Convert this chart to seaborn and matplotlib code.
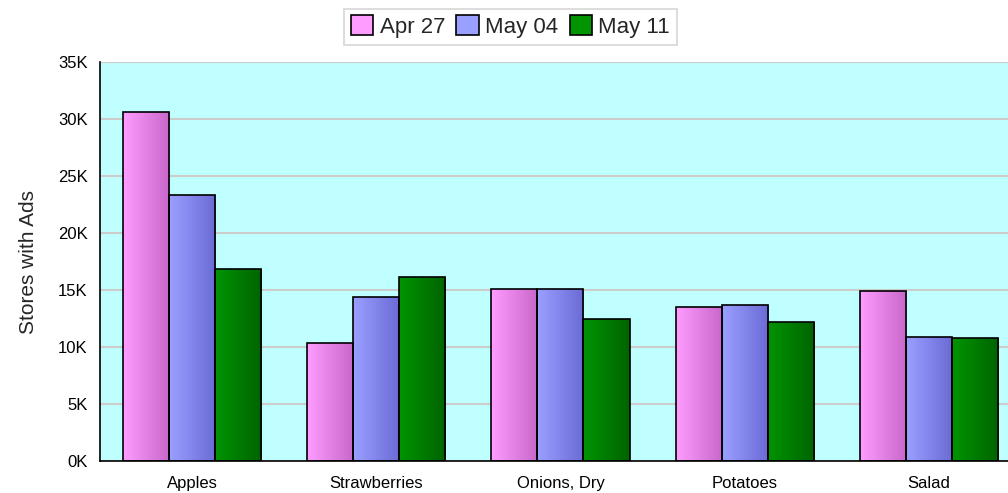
import numpy as np
import pandas as pd
import seaborn as sns
import matplotlib.pyplot as plt
from matplotlib.colors import LinearSegmentedColormap
from matplotlib.patches import Rectangle
from matplotlib.ticker import FuncFormatter, MultipleLocator

# Datos
categorias = ["Apples", "Strawberries", "Onions, Dry", "Potatoes", "Salad"]
semanas = ["Apr 27", "May 04", "May 11"]
apr27 = [30600, 10350, 15100, 13500, 14950]
may04 = [23300, 14400, 15100, 13700, 10900]
may11 = [16850, 16150, 12500, 12150, 10750]

df = pd.DataFrame({
    "categoria": categorias * 3,
    "semana": [s for s in semanas for _ in categorias],
    "valor": apr27 + may04 + may11,
})

# colores: (claro, oscuro) para el degradado
degradados = {
    "Apr 27": ("#ff9cff", "#c966c9"),
    "May 04": ("#9aa0ff", "#6a6ad4"),
    "May 11": ("#009400", "#006400"),
}
paleta = {k: v[1] for k, v in degradados.items()}

sns.set_theme(style="white")
plt.rcParams["font.family"] = ["Liberation Sans", "DejaVu Sans"]

fig = plt.figure(figsize=(10.08, 4.93), dpi=100)
ax = fig.add_axes([100 / 1008, 32 / 493, 1 - 100 / 1008, (461 - 62) / 493])
ax.set_facecolor("#c0ffff")

sns.barplot(data=df, x="categoria", y="valor", hue="semana", hue_order=semanas,
            palette=paleta, width=0.75, gap=0, edgecolor="black", linewidth=1.2,
            legend=False, ax=ax, zorder=3)

# degradado horizontal dentro de cada barra
grad = np.linspace(0, 1, 256).reshape(1, -1)
for cont, semana in zip(ax.containers, semanas):
    cmap = LinearSegmentedColormap.from_list(semana, degradados[semana])
    for bar in cont:
        x0, y0 = bar.get_x(), bar.get_y()
        x1, y1 = x0 + bar.get_width(), y0 + bar.get_height()
        im = ax.imshow(grad, cmap=cmap, extent=(x0, x1, y0, y1), aspect="auto",
                       zorder=2.5, interpolation="bilinear")
        im.set_clip_path(bar)
        bar.set_facecolor("none")

ax.set_xlim(-0.5, 4.43)
ax.set_ylim(0, 35000)
ax.yaxis.set_major_locator(MultipleLocator(5000))
ax.yaxis.set_major_formatter(FuncFormatter(lambda v, p: f"{int(v / 1000)}K"))
ax.grid(axis="y", color="#cccccc", linewidth=1.5, zorder=1)
ax.set_axisbelow(True)

for lado in ["top", "right"]:
    ax.spines[lado].set_visible(False)
for lado in ["left", "bottom"]:
    ax.spines[lado].set_color("black")
    ax.spines[lado].set_linewidth(1.2)
    ax.spines[lado].set_zorder(4)

ax.tick_params(axis="both", length=0, labelsize=12, colors="black")
ax.tick_params(axis="x", pad=11)
ax.tick_params(axis="y", pad=9)
ax.set_xlabel("")
ax.set_ylabel("Stores with Ads", fontsize=15, labelpad=14)

# leyenda
handles = [Rectangle((0, 0), 1, 1, facecolor=degradados[s][0], edgecolor="black", linewidth=1.2)
           for s in semanas]
leg = fig.legend(handles, semanas, loc="center", bbox_to_anchor=(0.5065, 0.946), ncol=3,
                 fontsize=16, frameon=True, fancybox=False, edgecolor="#cccccc",
                 handlelength=1.0, handleheight=1.0, handletextpad=0.3, columnspacing=0.5,
                 borderpad=0.3, borderaxespad=0)
leg.get_frame().set_linewidth(1.2)

fig.savefig("out.png", dpi=100)
